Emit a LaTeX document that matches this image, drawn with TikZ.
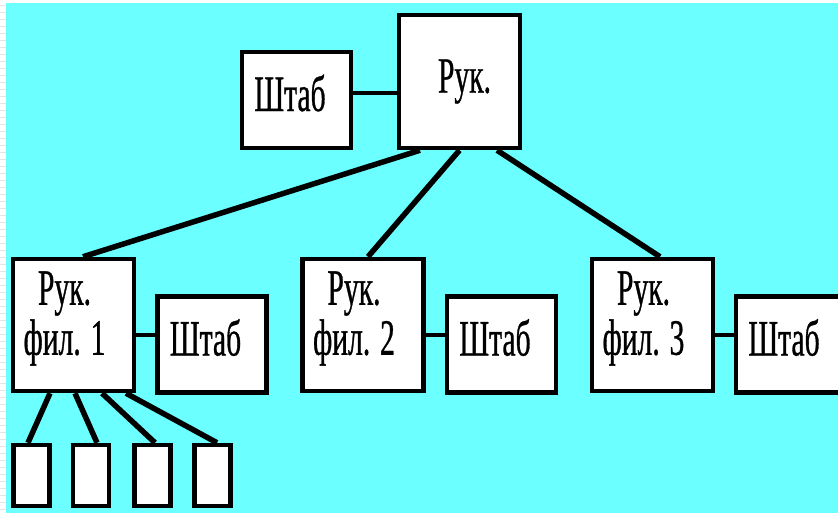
\documentclass[tikz,border=0pt]{standalone}
\usepackage{fontspec}
\newfontfamily\condfont[FakeStretch=0.58,FakeBold=0.6]{Liberation Serif}
\usepackage{tikz}
\usetikzlibrary{positioning}
\definecolor{bgcyan}{RGB}{108,255,255}
\tikzset{
	box/.style={draw, fill=white, line width=4.5pt, inner sep=0pt},
	bigbox/.style={box, minimum width=121pt, minimum height=133pt},
	shtabbox/.style={box, minimum width=109pt, minimum height=96pt},
	smallbox/.style={box, minimum width=36pt, minimum height=61pt},
	txt/.style={font=\condfont\fontsize{51}{50}\selectfont, align=center, inner sep=0pt},
	link/.style={line width=5.5pt},
	thinlink/.style={line width=4pt, line cap=round}
}
\begin{document}
\begin{tikzpicture}[x=1pt,y=-1pt]
		\useasboundingbox (0,0) rectangle (838,513);
		\clip (0,0) rectangle (838,513);
		\fill [white] (0,0) rectangle (838,513); %поле
		\fill [bgcyan] (6,3) rectangle (838,513); %фон
		\foreach \y in {5,12,...,510} \draw [gray!20] (0,\y)--(6,\y);
		% руководитель и штаб
		\node [bigbox, minimum height=133pt, label={[txt, xshift=5pt]center:Рук.}] (ruk) at (459.5,81.5) {};
		\node [shtabbox, label={[txt, xshift=-6.5pt, yshift=7pt]center:Штаб}] (shtab0) at (296.5,100) {};
		% филиалы
		\node [bigbox, minimum height=132pt, label={[txt, xshift=-9pt, yshift=6.5pt]center:Рук.\\фил. 1}] (fil1) at (73.5,325) {};
		\node [bigbox, minimum height=132pt, label={[txt, xshift=-9pt, yshift=6.5pt]center:Рук.\\фил. 2}] (fil2) at (363,325) {};
		\node [bigbox, minimum height=132pt, label={[txt, xshift=-9pt, yshift=6.5pt]center:Рук.\\фил. 3}] (fil3) at (652.5,325) {};
		\node [shtabbox, label={[txt, xshift=-6.5pt, yshift=7pt]center:Штаб}] (shtab1) at (212,344.5) {};
		\node [shtabbox, label={[txt, xshift=-6.5pt, yshift=7pt]center:Штаб}] (shtab2) at (501.5,344.5) {};
		\node [shtabbox, label={[txt, xshift=-6.5pt, yshift=7pt]center:Штаб}] (shtab3) at (790.5,344.5) {};
		% подразделения
		\node [smallbox] (s1) at (31.5,475.5) {};
		\node [smallbox] (s2) at (91,475.5) {};
		\node [smallbox] (s3) at (152.5,475.5) {};
		\node [smallbox] (s4) at (212.5,475.5) {};
		% связи
		\draw [thinlink] ([yshift=7pt]shtab0.east)--([yshift=-11.5pt]ruk.west);
		\draw [thinlink] ([yshift=-10pt]fil1.east)--([yshift=9.5pt]shtab1.west);
		\draw [thinlink] ([yshift=-10pt]fil2.east)--([yshift=9.5pt]shtab2.west);
		\draw [thinlink] ([yshift=-10pt]fil3.east)--([yshift=9.5pt]shtab3.west);
		\draw [link] ([xshift=-39.5pt]ruk.south)--([xshift=9.5pt]fil1.north);
		\draw [link] (ruk.south)--([xshift=5pt]fil2.north);
		\draw [link] ([xshift=37.5pt]ruk.south)--([xshift=7.5pt]fil3.north);
		\draw [link] ([xshift=-23.5pt]fil1.south)--([xshift=-3.5pt]s1.north);
		\draw [link] ([xshift=1.5pt]fil1.south)--([xshift=6pt]s2.north);
		\draw [link] ([xshift=28.5pt]fil1.south)--([xshift=2.5pt]s3.north);
		\draw [link] ([xshift=52.5pt]fil1.south)--([xshift=4.5pt]s4.north);
	\end{tikzpicture}
\end{document}
